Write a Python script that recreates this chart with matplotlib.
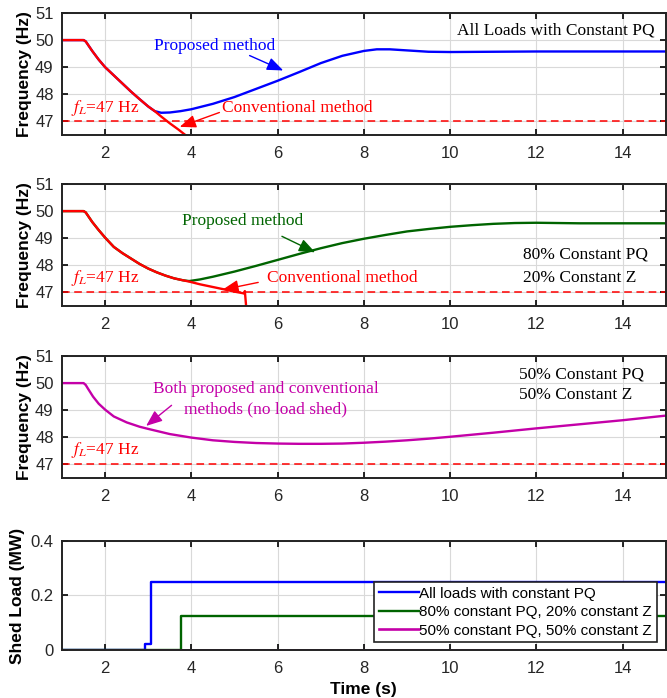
import matplotlib
matplotlib.use("Agg")
import matplotlib.pyplot as plt

# ---------------- data ----------------
t_p1 = [1.0, 1.5, 1.55, 1.7, 1.85, 2.0, 2.2, 2.4, 2.6, 2.8, 3.0, 3.15, 3.3, 3.5, 3.75, 4.0, 4.5, 5.0,
        5.5, 6.0, 6.5, 7.0, 7.5, 8.0, 8.3, 8.6, 9.0, 9.5, 10.0, 11.0, 12.0, 13.0, 14.0, 15.0]
f_p1 = [50, 50, 49.95, 49.6, 49.28, 49.0, 48.7, 48.4, 48.1, 47.82, 47.55, 47.38, 47.32, 47.33, 47.38,
        47.45, 47.65, 47.9, 48.2, 48.5, 48.82, 49.15, 49.42, 49.6, 49.66, 49.66, 49.62, 49.57, 49.56,
        49.57, 49.58, 49.58, 49.58, 49.58]
t_c1 = [1.0, 1.5, 1.55, 1.7, 1.85, 2.0, 2.2, 2.4, 2.6, 2.8, 3.0, 3.15, 3.3, 3.5, 3.7, 3.9]
f_c1 = [50, 50, 49.95, 49.6, 49.28, 49.0, 48.7, 48.4, 48.1, 47.82, 47.55, 47.38, 47.18, 46.93, 46.7, 46.45]

t_p2 = [1.0, 1.5, 1.55, 1.7, 1.85, 2.0, 2.2, 2.4, 2.6, 2.8, 3.0, 3.2, 3.4, 3.6, 3.8, 3.95, 4.2, 4.5,
        5.0, 5.5, 6.0, 6.5, 7.0, 7.5, 8.0, 8.5, 9.0, 9.5, 10.0, 10.5, 11.0, 11.5, 12.0, 12.5, 13.0,
        14.0, 15.0]
f_p2 = [50, 50, 49.95, 49.6, 49.3, 49.02, 48.68, 48.45, 48.25, 48.05, 47.88, 47.74, 47.62, 47.52,
        47.45, 47.42, 47.48, 47.58, 47.77, 47.98, 48.2, 48.42, 48.63, 48.82, 48.98, 49.12, 49.25,
        49.34, 49.42, 49.48, 49.53, 49.56, 49.57, 49.56, 49.55, 49.55, 49.55]
t_c2 = [1.0, 1.5, 1.55, 1.7, 1.85, 2.0, 2.2, 2.4, 2.6, 2.8, 3.0, 3.2, 3.4, 3.6, 3.8, 3.95, 4.2, 4.5,
        4.8, 5.0, 5.2, 5.22, 5.24, 5.28]
f_c2 = [50, 50, 49.95, 49.6, 49.3, 49.02, 48.68, 48.45, 48.25, 48.05, 47.88, 47.74, 47.62, 47.52,
        47.45, 47.4, 47.3, 47.2, 47.1, 47.03, 46.97, 46.96, 47.05, 46.3]

t_b3 = [1.0, 1.5, 1.55, 1.6, 1.72, 1.85, 2.0, 2.2, 2.5, 2.8, 3.0, 3.5, 4.0, 4.5, 5.0, 5.5, 6.0,
        6.5, 7.0, 7.5, 8.0, 8.5, 9.0, 9.5, 10.0, 11.0, 12.0, 13.0, 14.0, 15.0]
f_b3 = [50, 50, 49.93, 49.8, 49.5, 49.24, 49.02, 48.77, 48.55, 48.39, 48.31, 48.12, 47.99, 47.89,
        47.83, 47.79, 47.77, 47.76, 47.76, 47.77, 47.8, 47.84, 47.89, 47.95, 48.02, 48.17, 48.33,
        48.48, 48.63, 48.8]

t_s_pq = [1.0, 2.92, 3.07, 15.0]
s_pq = [0.0, 0.022, 0.248, 0.248]
t_s_8020 = [1.0, 3.77, 15.0]
s_8020 = [0.0, 0.123, 0.123]
t_s_5050 = [1.0, 15.0]
s_5050 = [0.0, 0.0]

legend_labels = ["All loads with constant PQ", "80% constant PQ, 20% constant Z",
                 "50% constant PQ, 50% constant Z"]
f_limit = 47
xticks = [2, 4, 6, 8, 10, 12, 14]
fticks = [47, 48, 49, 50, 51]
sticks = [0, 0.2, 0.4]

# ---------------- style ----------------
BLUE = "#0000ff"
RED = "#ff0000"
GREEN = "#006400"
MAG = "#c400a8"
plt.rcParams["font.family"] = ["Liberation Sans", "DejaVu Sans"]
plt.rcParams["mathtext.fontset"] = "stix"
SERIF = "Liberation Serif"

fig = plt.figure(figsize=(6.67, 6.98), dpi=100)
L, W = 0.093, 0.905
pos = [(L, 0.8066, W, 0.1748), (L, 0.5616, W, 0.1748), (L, 0.3152, W, 0.1748),
       (L, 0.0688, W, 0.1561)]
axes = [fig.add_axes(p) for p in pos]


def style(ax):
    ax.set_xlim(1, 15)
    ax.set_xticks(xticks)
    ax.grid(True, color="#d9d9d9", lw=0.8)
    ax.set_axisbelow(True)
    ax.tick_params(direction="in", top=True, right=True, length=4, width=1.2,
                   labelsize=12, labelcolor="#262626")
    ax.tick_params(axis="x", pad=8)
    ax.tick_params(axis="y", pad=6)
    for s in ax.spines.values():
        s.set_linewidth(1.4)
        s.set_color("#222222")


def flabel(ax):
    ax.set_ylim(46.5, 51)
    ax.set_yticks(fticks)
    ax.set_ylabel("Frequency (Hz)", fontsize=12.5, fontweight="bold", labelpad=2)
    ax.axhline(f_limit, color=RED, ls=(0, (5, 3)), lw=1.1)


arrow = lambda c: dict(arrowstyle="-|>,head_length=0.7,head_width=0.28", color=c, lw=1.0,
                       mutation_scale=14, shrinkA=0, shrinkB=0)
tk = dict(family=SERIF, fontsize=12.5)

# Panel 1
ax = axes[0]
style(ax); flabel(ax)
ax.plot(t_p1, f_p1, color=BLUE, lw=1.7)
ax.plot(t_c1, f_c1, color=RED, lw=1.7)
ax.text(14.75, 50.35, "All Loads with Constant PQ", ha="right", va="center", color="black", **tk)
ax.text(4.53, 49.8, "Proposed method", ha="center", va="center", color=BLUE, **tk)
ax.annotate("", xy=(6.13, 48.88), xytext=(5.35, 49.43), arrowprops=arrow(BLUE))
ax.text(6.45, 47.48, "Conventional method", ha="center", va="center", color=RED, **tk)
ax.annotate("", xy=(3.73, 46.8), xytext=(4.65, 47.33), arrowprops=arrow(RED))
ax.text(1.2, 47.5, r"$f_L$=47 Hz", ha="left", va="center", color=RED, **tk)

# Panel 2
ax = axes[1]
style(ax); flabel(ax)
ax.plot(t_p2, f_p2, color=GREEN, lw=1.7)
ax.plot(t_c2, f_c2, color=RED, lw=1.7)
ax.text(5.2, 49.63, "Proposed method", ha="center", va="center", color=GREEN, **tk)
ax.annotate("", xy=(6.87, 48.48), xytext=(6.1, 49.07), arrowprops=arrow(GREEN))
ax.text(11.7, 48.4, "80% Constant PQ", ha="left", va="center", color="black", **tk)
ax.text(11.7, 47.55, "20% Constant Z", ha="left", va="center", color="black", **tk)
ax.text(7.5, 47.55, "Conventional method", ha="center", va="center", color=RED, **tk)
ax.annotate("", xy=(4.72, 47.1), xytext=(5.55, 47.37), arrowprops=arrow(RED))
ax.text(1.2, 47.52, r"$f_L$=47 Hz", ha="left", va="center", color=RED, **tk)

# Panel 3
ax = axes[2]
style(ax); flabel(ax)
ax.plot(t_b3, f_b3, color=MAG, lw=1.7)
ax.text(11.6, 50.3, "50% Constant PQ", ha="left", va="center", color="black", **tk)
ax.text(11.6, 49.55, "50% Constant Z", ha="left", va="center", color="black", **tk)
ax.text(5.72, 49.78, "Both proposed and conventional", ha="center", va="center", color=MAG, **tk)
ax.text(5.72, 49.04, "methods (no load shed)", ha="center", va="center", color=MAG, **tk)
ax.annotate("", xy=(2.95, 48.42), xytext=(3.54, 49.18), arrowprops=arrow(MAG))
ax.text(1.2, 47.52, r"$f_L$=47 Hz", ha="left", va="center", color=RED, **tk)

# Panel 4
ax = axes[3]
style(ax)
ax.set_ylim(0, 0.4)
ax.set_yticks(sticks)
ax.set_yticklabels(["0", "0.2", "0.4"])
ax.plot(t_s_pq, s_pq, color=BLUE, lw=1.7, drawstyle="steps-post", label=legend_labels[0])
ax.plot(t_s_8020, s_8020, color=GREEN, lw=1.7, drawstyle="steps-post", label=legend_labels[1])
ax.plot(t_s_5050, s_5050, color=MAG, lw=1.9, drawstyle="steps-post", label=legend_labels[2])
ax.set_ylabel("Shed Load (MW)", fontsize=12.5, fontweight="bold", labelpad=4)
ax.set_xlabel("Time (s)", fontsize=12.5, fontweight="bold", labelpad=4)
leg = ax.legend(loc="lower right", bbox_to_anchor=(0.985, 0.07), fontsize=11, frameon=True,
                fancybox=False, edgecolor="#222222", framealpha=1, borderpad=0.3,
                labelspacing=0.3, handlelength=2.6, handletextpad=0.05, borderaxespad=0)
leg.get_frame().set_linewidth(1.2)

fig.savefig("out.png", dpi=100)
